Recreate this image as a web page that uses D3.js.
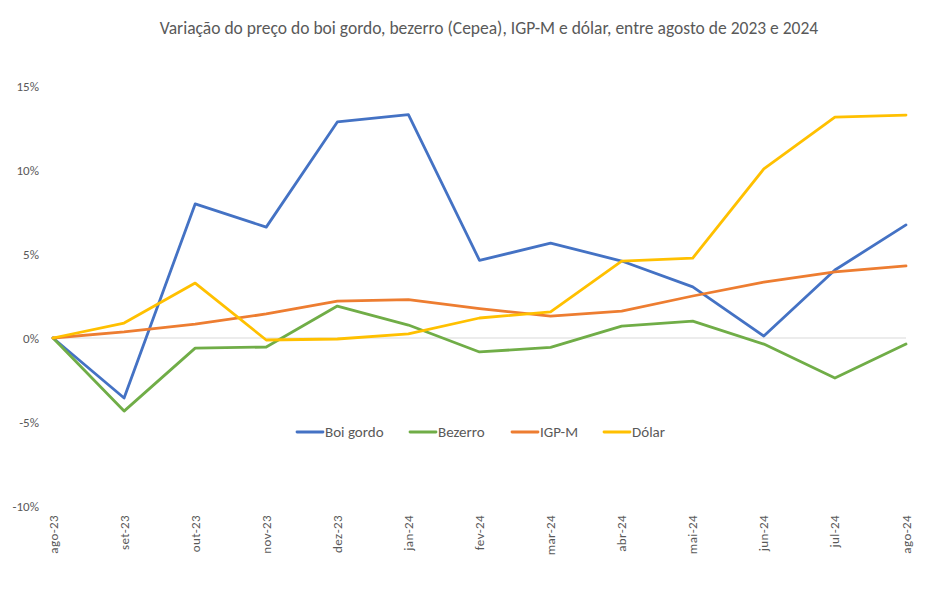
<!DOCTYPE html>
<html>
<head>
<meta charset="utf-8">
<script src="https://cdn.jsdelivr.net/npm/d3@7"></script>
<style>
  body { margin: 0; background: #fff; }
  text { font-family: Carlito, "Liberation Sans", Arial, sans-serif; fill: #595959; }
</style>
</head>
<body>
<svg id="chart" width="948" height="589"></svg>
<script>
const months = ["ago-23","set-23","out-23","nov-23","dez-23","jan-24","fev-24","mar-24","abr-24","mai-24","jun-24","jul-24","ago-24"];
const boiGordo = [0, -3.57, 7.98, 6.6, 12.86, 13.3, 4.62, 5.65, 4.58, 3.04, 0.12, 4.05, 6.73];
const bezerro  = [0, -4.35, -0.6, -0.54, 1.9, 0.77, -0.83, -0.56, 0.71, 1.0, -0.36, -2.38, -0.36];
const igpm     = [0, 0.36, 0.83, 1.43, 2.2, 2.28, 1.75, 1.3, 1.6, 2.5, 3.33, 3.93, 4.29];
const dolar    = [0, 0.89, 3.27, -0.12, -0.06, 0.24, 1.19, 1.55, 4.58, 4.76, 10.06, 13.15, 13.27];
const yTicks = [-10, -5, 0, 5, 10, 15];

const series = [
  { name: "Boi gordo", values: boiGordo, color: "#4472C4" },
  { name: "Bezerro",   values: bezerro,  color: "#70AD47" },
  { name: "IGP-M",     values: igpm,     color: "#ED7D31" },
  { name: "Dólar",     values: dolar,    color: "#FFC000" }
];

const svg = d3.select("#chart");

const x = d3.scalePoint().domain(months).range([53, 906]);
const y = d3.scaleLinear().domain([-10, 15]).range([506, 86]);

// title
svg.append("text")
  .attr("x", 489).attr("y", 34)
  .attr("text-anchor", "middle")
  .style("font-size", "17.5px")
  .text("Variação do preço do boi gordo, bezerro (Cepea), IGP-M e dólar, entre agosto de 2023 e 2024");

// y axis labels
svg.append("g").selectAll("text")
  .data(yTicks)
  .enter().append("text")
    .attr("x", 39)
    .attr("y", d => y(d) + 4.5)
    .attr("text-anchor", "end")
    .style("font-size", "13px")
    .text(d => d + "%");

// zero line
svg.append("line")
  .attr("x1", x(months[0])).attr("x2", x(months[months.length - 1]))
  .attr("y1", y(0)).attr("y2", y(0))
  .attr("stroke", "#d9d9d9").attr("stroke-width", 1);

// x labels, rotated
svg.append("g").selectAll("text")
  .data(months)
  .enter().append("text")
    .attr("transform", d => `translate(${x(d) + 4.5},515) rotate(-90)`)
    .attr("text-anchor", "end")
    .style("font-size", "13px")
    .style("letter-spacing", "0.4px")
    .text(d => d);

const line = d3.line()
  .x((d, i) => x(months[i]))
  .y(d => y(d));

svg.append("g").selectAll("path")
  .data(series)
  .enter().append("path")
    .attr("d", d => line(d.values))
    .attr("fill", "none")
    .attr("stroke", d => d.color)
    .attr("stroke-width", 2.8)
    .attr("stroke-linejoin", "round")
    .attr("stroke-linecap", "round");

// legend
const legendX = [297, 410, 512, 604];
const lg = svg.append("g").selectAll("g")
  .data(series)
  .enter().append("g")
    .attr("transform", (d, i) => `translate(${legendX[i]},432)`);
lg.append("line")
  .attr("x1", 0).attr("x2", 26)
  .attr("stroke", d => d.color).attr("stroke-width", 2.8).attr("stroke-linecap", "round");
lg.append("text")
  .attr("x", 28).attr("y", 5)
  .style("font-size", "15px")
  .text(d => d.name);
</script>
</body>
</html>
